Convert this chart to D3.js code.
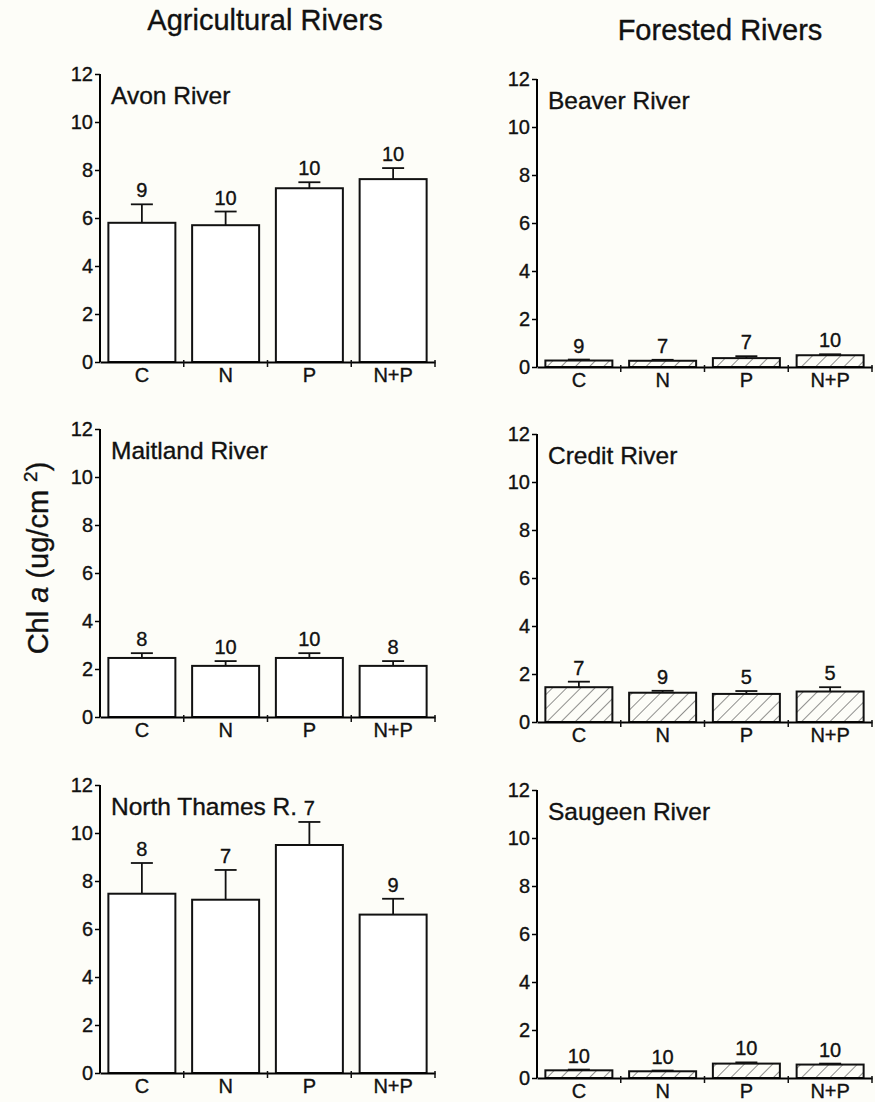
<!DOCTYPE html>
<html>
<head>
<meta charset="utf-8">
<script src="https://cdn.jsdelivr.net/npm/d3@7"></script>
<style>
  body { margin: 0; background: #fdfdf8; }
  svg { display: block; font-family: "Liberation Sans", Arial, sans-serif; }
  svg text { fill: #111; stroke: #111; stroke-width: 0.35px; }
</style>
</head>
<body>
<script>
// treatments and axis ticks
var categories = ["C", "N", "P", "N+P"];
var yTicks = [0, 2, 4, 6, 8, 10, 12];

// rivers (first three agricultural, last three forested)
var rivers = ["Avon River", "Maitland River", "North Thames R.", "Beaver River", "Credit River", "Saugeen River"];

// mean chl a per treatment
var avonMean = [5.8, 5.7, 7.24, 7.62];
var maitlandMean = [2.46, 2.13, 2.46, 2.13];
var thamesMean = [7.47, 7.22, 9.5, 6.6];
var beaverMean = [0.27, 0.26, 0.37, 0.49];
var creditMean = [1.45, 1.22, 1.17, 1.27];
var saugeenMean = [0.32, 0.28, 0.6, 0.56];

// standard errors (upper bar only)
var avonSE = [0.77, 0.57, 0.25, 0.46];
var maitlandSE = [0.2, 0.2, 0.2, 0.2];
var thamesSE = [1.28, 1.24, 0.96, 0.66];
var beaverSE = [0.04, 0.04, 0.08, 0.04];
var creditSE = [0.23, 0.08, 0.12, 0.18];
var saugeenSE = [0.03, 0.03, 0.05, 0.04];

// sample sizes printed above bars
var avonN = [9, 10, 10, 10];
var maitlandN = [8, 10, 10, 8];
var thamesN = [8, 7, 7, 9];
var beaverN = [9, 7, 7, 10];
var creditN = [7, 9, 5, 5];
var saugeenN = [10, 10, 10, 10];

var means = [avonMean, maitlandMean, thamesMean, beaverMean, creditMean, saugeenMean];
var errs = [avonSE, maitlandSE, thamesSE, beaverSE, creditSE, saugeenSE];
var counts = [avonN, maitlandN, thamesN, beaverN, creditN, saugeenN];

var width = 875, height = 1102;
var plotW = 335, plotH = 288;
var colX = [100, 537];
var rowY0 = [[362, 717, 1073], [367, 722, 1078]];

var svg = d3.select("body").append("svg")
    .attr("width", width).attr("height", height);

var defs = svg.append("defs");
var pat = defs.append("pattern")
    .attr("id", "hatch").attr("patternUnits", "userSpaceOnUse")
    .attr("width", 10).attr("height", 10)
    .attr("patternTransform", "rotate(45)");
pat.append("line").attr("x1", 0).attr("y1", 0).attr("x2", 0).attr("y2", 10)
    .attr("stroke", "#444").attr("stroke-width", 1.2);

svg.append("text").attr("x", 265).attr("y", 30).attr("text-anchor", "middle")
    .style("font-size", "29px").text("Agricultural Rivers");
svg.append("text").attr("x", 720).attr("y", 40).attr("text-anchor", "middle")
    .style("font-size", "29px").text("Forested Rivers");

var ylab = svg.append("text")
    .attr("transform", "translate(48,558) rotate(-90)")
    .attr("text-anchor", "middle").style("font-size", "29px");
ylab.append("tspan").text("Chl ");
ylab.append("tspan").style("font-style", "italic").text("a");
ylab.append("tspan").text("  (ug/cm ");
ylab.append("tspan").attr("dy", -11).style("font-size", "19px").text("2");
ylab.append("tspan").attr("dy", 11).text(")");

rivers.forEach(function(name, i) {
  var col = i < 3 ? 0 : 1, row = i % 3;
  var x0 = colX[col], y0 = rowY0[col][row];

  var x = d3.scaleBand().domain(categories)
      .range([0, plotW]).paddingInner(0.2).paddingOuter(0.1);
  var y = d3.scaleLinear().domain([0, 12]).range([plotH, 0]);

  var g = svg.append("g").attr("transform", "translate(" + x0 + "," + (y0 - plotH) + ")");

  var rows = categories.map(function(c, k) {
    return { cat: c, mean: means[i][k], se: errs[i][k], n: counts[i][k] };
  });

  // error bars
  var eb = g.selectAll(".eb").data(rows).enter().append("g");
  eb.append("line")
      .attr("x1", function(d) { return x(d.cat) + x.bandwidth() / 2; })
      .attr("x2", function(d) { return x(d.cat) + x.bandwidth() / 2; })
      .attr("y1", function(d) { return y(d.mean); })
      .attr("y2", function(d) { return y(d.mean + d.se); })
      .attr("stroke", "#111").attr("stroke-width", 1.8);
  eb.append("line")
      .attr("x1", function(d) { return x(d.cat) + x.bandwidth() / 2 - 11; })
      .attr("x2", function(d) { return x(d.cat) + x.bandwidth() / 2 + 11; })
      .attr("y1", function(d) { return y(d.mean + d.se); })
      .attr("y2", function(d) { return y(d.mean + d.se); })
      .attr("stroke", "#111").attr("stroke-width", 1.8);

  g.selectAll(".bar").data(rows).enter().append("rect")
      .attr("x", function(d) { return x(d.cat); })
      .attr("y", function(d) { return y(d.mean); })
      .attr("width", x.bandwidth())
      .attr("height", function(d) { return plotH - y(d.mean); })
      .attr("fill", col === 1 ? "url(#hatch)" : "#fff")
      .attr("stroke", "#111").attr("stroke-width", 2);

  g.selectAll(".nlab").data(rows).enter().append("text")
      .attr("x", function(d) { return x(d.cat) + x.bandwidth() / 2; })
      .attr("y", function(d) { return y(d.mean + d.se) - 7; })
      .attr("text-anchor", "middle").style("font-size", "20px")
      .text(function(d) { return d.n; });

  // y axis
  var ya = g.append("g").call(d3.axisLeft(y).tickValues(yTicks).tickSize(5).tickPadding(2));
  ya.select(".domain").attr("stroke-width", 2).attr("d", "M0," + plotH + "V0");
  ya.selectAll(".tick line").attr("stroke-width", 1.5);
  ya.selectAll("text").style("font-size", "20px").attr("font-family", null);

  // x axis with ticks at category boundaries
  var xa = g.append("g").attr("transform", "translate(0," + plotH + ")")
      .call(d3.axisBottom(x).tickSize(0).tickPadding(6));
  xa.select(".domain").attr("stroke-width", 2);
  xa.selectAll("text").style("font-size", "20px").attr("font-family", null);
  var step = x.step();
  xa.selectAll(".bnd").data(categories).enter().append("line")
      .attr("x1", function(c) { return x(c) + x.bandwidth() + step * 0.1; })
      .attr("x2", function(c) { return x(c) + x.bandwidth() + step * 0.1; })
      .attr("y1", -2).attr("y2", 5)
      .attr("stroke", "#111").attr("stroke-width", 1.5);

  g.append("text").attr("x", 11).attr("y", 30)
      .style("font-size", "24.5px").text(name);
});
</script>
</body>
</html>
